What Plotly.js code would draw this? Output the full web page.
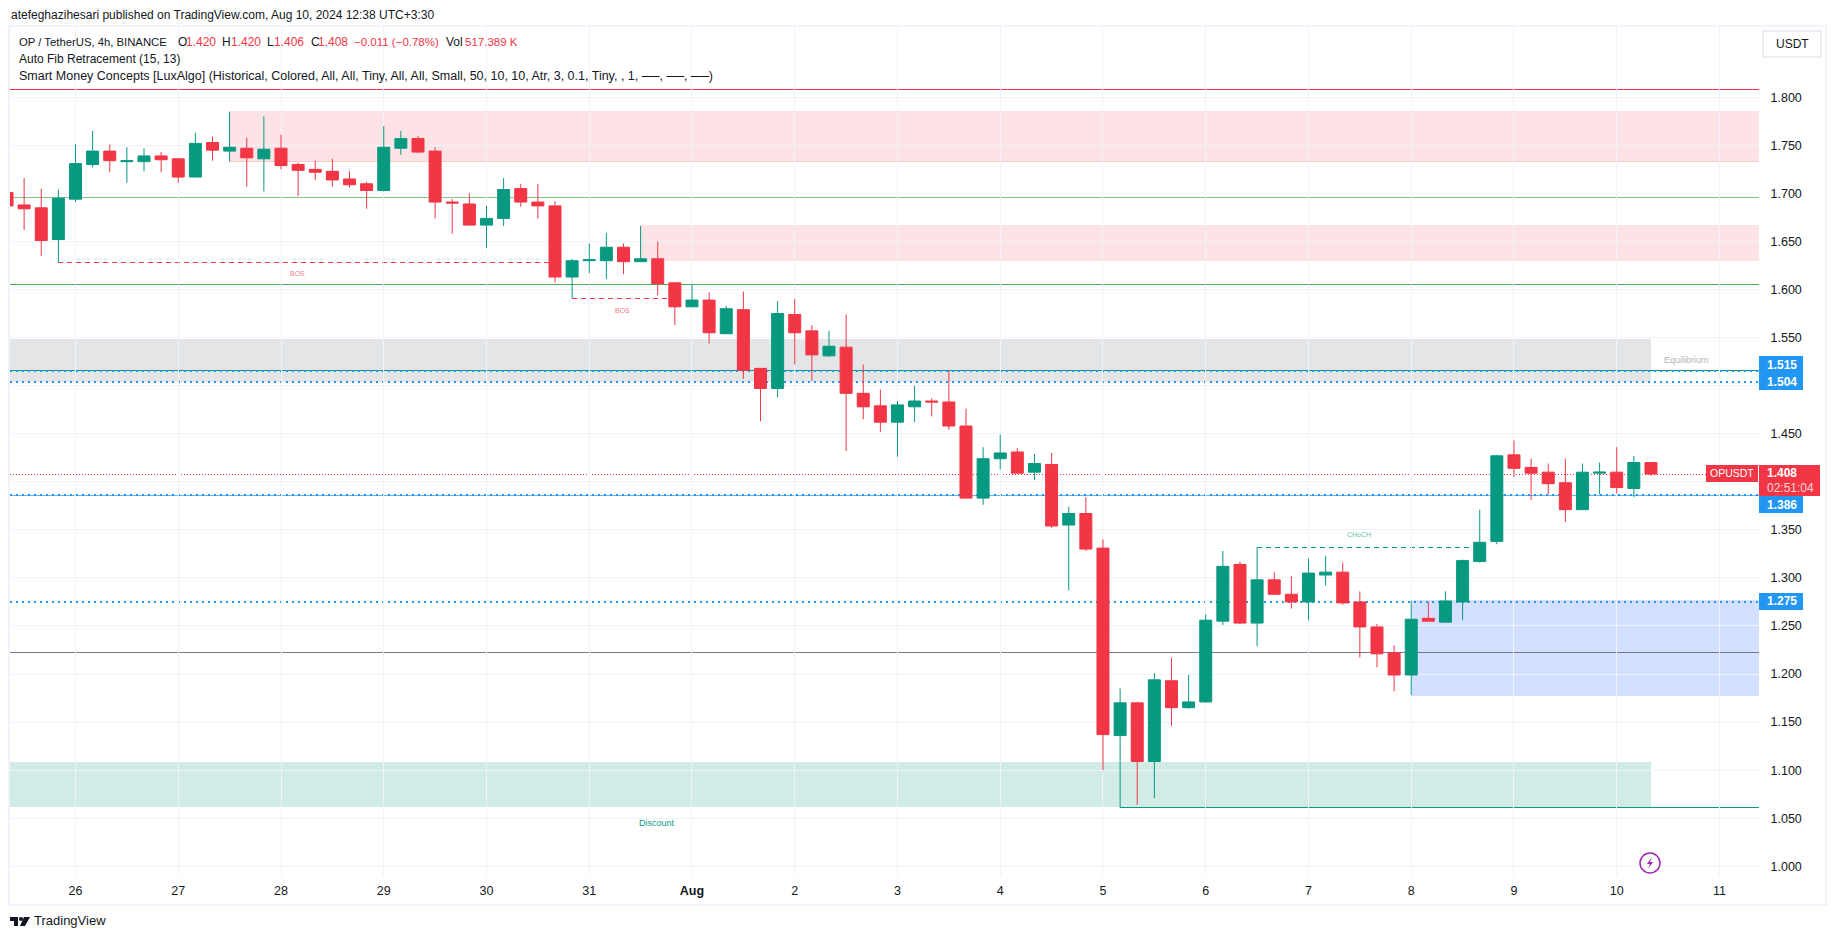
<!DOCTYPE html>
<html><head><meta charset="utf-8">
<script src="https://cdn.plot.ly/plotly-3.0.1.min.js"></script>
<style>html,body{margin:0;padding:0;background:#fff}#c{width:1835px;height:939px}</style>
</head><body><div id="c"></div>
<script>
const times = [
"2024-07-25 08:00","2024-07-25 12:00","2024-07-25 16:00","2024-07-25 20:00",
"2024-07-26 00:00","2024-07-26 04:00","2024-07-26 08:00","2024-07-26 12:00","2024-07-26 16:00","2024-07-26 20:00",
"2024-07-27 00:00","2024-07-27 04:00","2024-07-27 08:00","2024-07-27 12:00","2024-07-27 16:00","2024-07-27 20:00",
"2024-07-28 00:00","2024-07-28 04:00","2024-07-28 08:00","2024-07-28 12:00","2024-07-28 16:00","2024-07-28 20:00",
"2024-07-29 00:00","2024-07-29 04:00","2024-07-29 08:00","2024-07-29 12:00","2024-07-29 16:00","2024-07-29 20:00",
"2024-07-30 00:00","2024-07-30 04:00","2024-07-30 08:00","2024-07-30 12:00","2024-07-30 16:00","2024-07-30 20:00",
"2024-07-31 00:00","2024-07-31 04:00","2024-07-31 08:00","2024-07-31 12:00","2024-07-31 16:00","2024-07-31 20:00",
"2024-08-01 00:00","2024-08-01 04:00","2024-08-01 08:00","2024-08-01 12:00","2024-08-01 16:00","2024-08-01 20:00",
"2024-08-02 00:00","2024-08-02 04:00","2024-08-02 08:00","2024-08-02 12:00","2024-08-02 16:00","2024-08-02 20:00",
"2024-08-03 00:00","2024-08-03 04:00","2024-08-03 08:00","2024-08-03 12:00","2024-08-03 16:00","2024-08-03 20:00",
"2024-08-04 00:00","2024-08-04 04:00","2024-08-04 08:00","2024-08-04 12:00","2024-08-04 16:00","2024-08-04 20:00",
"2024-08-05 00:00","2024-08-05 04:00","2024-08-05 08:00","2024-08-05 12:00","2024-08-05 16:00","2024-08-05 20:00",
"2024-08-06 00:00","2024-08-06 04:00","2024-08-06 08:00","2024-08-06 12:00","2024-08-06 16:00","2024-08-06 20:00",
"2024-08-07 00:00","2024-08-07 04:00","2024-08-07 08:00","2024-08-07 12:00","2024-08-07 16:00","2024-08-07 20:00",
"2024-08-08 00:00","2024-08-08 04:00","2024-08-08 08:00","2024-08-08 12:00","2024-08-08 16:00","2024-08-08 20:00",
"2024-08-09 00:00","2024-08-09 04:00","2024-08-09 08:00","2024-08-09 12:00","2024-08-09 16:00","2024-08-09 20:00",
"2024-08-10 00:00","2024-08-10 04:00","2024-08-10 08:00"];
const opens = [1.701,1.688,1.685,1.652,1.694,1.730,1.744,1.733,1.733,1.739,1.736,1.717,1.753,1.744,1.747,1.736,1.747,1.730,1.725,1.723,1.715,1.710,1.703,1.747,1.757,1.744,1.691,1.689,1.667,1.674,1.705,1.691,1.687,1.613,1.630,1.630,1.644,1.629,1.632,1.607,1.582,1.589,1.554,1.579,1.518,1.497,1.574,1.557,1.531,1.540,1.492,1.479,1.462,1.478,1.484,1.483,1.458,1.383,1.424,1.431,1.410,1.418,1.355,1.367,1.331,1.136,1.170,1.109,1.193,1.165,1.171,1.255,1.314,1.253,1.298,1.283,1.275,1.303,1.306,1.275,1.249,1.222,1.199,1.258,1.254,1.275,1.317,1.338,1.428,1.415,1.410,1.399,1.371,1.409,1.410,1.393,1.420];
const highs = [1.706,1.716,1.705,1.704,1.751,1.765,1.751,1.748,1.747,1.743,1.736,1.763,1.759,1.785,1.758,1.780,1.761,1.732,1.734,1.736,1.723,1.712,1.770,1.765,1.760,1.748,1.694,1.700,1.687,1.716,1.710,1.710,1.692,1.632,1.648,1.659,1.648,1.666,1.650,1.607,1.606,1.597,1.583,1.598,1.518,1.588,1.590,1.563,1.557,1.574,1.522,1.496,1.484,1.500,1.487,1.516,1.476,1.436,1.449,1.435,1.429,1.430,1.374,1.384,1.340,1.185,1.171,1.201,1.217,1.199,1.262,1.328,1.317,1.332,1.306,1.302,1.320,1.323,1.316,1.286,1.252,1.230,1.276,1.275,1.286,1.319,1.371,1.428,1.443,1.424,1.419,1.424,1.419,1.420,1.436,1.427,1.420];
const lows = [1.684,1.662,1.635,1.628,1.691,1.727,1.722,1.711,1.723,1.722,1.711,1.717,1.734,1.733,1.707,1.702,1.725,1.697,1.714,1.707,1.706,1.684,1.702,1.740,1.742,1.674,1.658,1.667,1.643,1.666,1.686,1.674,1.607,1.591,1.617,1.611,1.616,1.629,1.594,1.563,1.582,1.544,1.554,1.507,1.463,1.488,1.522,1.505,1.530,1.432,1.465,1.452,1.426,1.462,1.468,1.454,1.383,1.376,1.413,1.409,1.402,1.352,1.287,1.328,1.100,1.061,1.064,1.071,1.146,1.164,1.170,1.251,1.252,1.229,1.282,1.268,1.256,1.292,1.272,1.217,1.207,1.182,1.178,1.255,1.254,1.256,1.316,1.335,1.405,1.381,1.387,1.358,1.371,1.387,1.388,1.384,1.406];
const closes = [1.687,1.684,1.651,1.695,1.731,1.744,1.734,1.734,1.739,1.735,1.717,1.752,1.745,1.748,1.737,1.746,1.729,1.724,1.722,1.714,1.709,1.703,1.748,1.757,1.743,1.691,1.690,1.667,1.674,1.704,1.691,1.687,1.613,1.630,1.631,1.644,1.629,1.632,1.606,1.582,1.589,1.555,1.580,1.516,1.497,1.575,1.555,1.532,1.541,1.492,1.478,1.462,1.480,1.484,1.483,1.458,1.383,1.424,1.430,1.409,1.419,1.354,1.367,1.330,1.137,1.170,1.109,1.194,1.165,1.171,1.256,1.312,1.253,1.298,1.283,1.275,1.305,1.306,1.274,1.249,1.221,1.199,1.257,1.255,1.276,1.318,1.337,1.427,1.414,1.409,1.398,1.371,1.410,1.410,1.394,1.420,1.408];

const dayTicks = ["2024-07-26","2024-07-27","2024-07-28","2024-07-29","2024-07-30","2024-07-31","2024-08-01","2024-08-02","2024-08-03","2024-08-04","2024-08-05","2024-08-06","2024-08-07","2024-08-08","2024-08-09","2024-08-10","2024-08-11"];
const dayLabels = ["26","27","28","29","30","31","<b>Aug</b>","2","3","4","5","6","7","8","9","10","11"];
const priceTicks = [1.00,1.05,1.10,1.15,1.20,1.25,1.30,1.35,1.40,1.45,1.50,1.55,1.60,1.65,1.70,1.75,1.80];
const priceLabels = ["1.000","1.050","1.100","1.150","1.200","1.250","1.300","1.350","","1.450","","1.550","1.600","1.650","1.700","1.750","1.800"];

const xStart = "2024-07-25 08:42", xEnd = "2024-08-11 09:14", lastBar = "2024-08-10 08:00";
const redZones = [[1.7848,1.733,"2024-07-27 12:00"],[1.6662,1.6302,"2024-07-31 12:00"]];
const blueZone = [1.276,1.178,"2024-08-08 00:00"];
const greyZone = [1.5487,1.5036];
const greenZone = [1.1087,1.0618];
const topLine = 1.8084, fibA = 1.696, fibB = 1.6055, midLine = 1.2227, lastPrice = 1.408;
const dottedLevels = [1.5157,1.504,1.386,1.275];
const swingLow = [1.0608,"2024-08-05 04:00"];
const bos1 = [1.628,"2024-07-25 20:00","2024-07-30 16:00"];
const bos2 = [1.591,"2024-07-30 20:00","2024-07-31 20:00"];
const choch = [1.332,"2024-08-06 12:00","2024-08-08 16:00"];

const RED="#f23645", GREEN="#089981", BLUE="#2196f3", INK="#131722";
const L=10,R=1759,T=27,B=876;
const fx=p=>(p-L)/(R-L), fy=p=>(B-p)/(B-T);
const FONT='"Liberation Sans", Arial, sans-serif';

function hline(y,color,width,dash,x0,x1){return {type:'line',xref:'x',yref:'y',x0:x0||xStart,x1:x1||xEnd,y0:y,y1:y,layer:'below',line:{color,width,dash:dash||'solid'}};}
function zone(y0,y1,x0,x1,fill,border){return {type:'rect',xref:'x',yref:'y',x0,x1,y0,y1,layer:'below',fillcolor:fill,line:{color:border,width:border==='rgba(0,0,0,0)'?0:1}};}
function pxRect(x0,y0,x1,y1,fill){return {type:'rect',xref:'paper',yref:'paper',x0:fx(x0),x1:fx(x1),y0:fy(y0),y1:fy(y1),fillcolor:fill,line:{width:0},layer:'above'};}
function pxText(text,x,y,size,color,anchor){return {xref:'paper',yref:'paper',x:fx(x),y:fy(y),text,showarrow:false,xanchor:anchor||'left',yanchor:'middle',font:{size,color,family:FONT},align:'left',borderpad:0};}
function P(x,y){return fx(x).toFixed(5)+','+fy(y).toFixed(5);}

const shapes=[
 {type:'rect',xref:'paper',yref:'paper',x0:fx(9),x1:fx(1826),y0:fy(26),y1:fy(905),line:{color:'#f0f3fa',width:2},layer:'below'},
 ...redZones.map(z=>zone(z[0],z[1],z[2],xEnd,'rgba(242,54,69,0.14)','rgba(242,54,69,0.14)')),
 zone(blueZone[0],blueZone[1],blueZone[2],xEnd,'rgba(41,98,255,0.2)','rgba(41,98,255,0.2)'),
 zone(greyZone[0],greyZone[1],xStart,lastBar,'rgba(120,123,134,0.2)','rgba(0,0,0,0)'),
 zone(greenZone[0],greenZone[1],xStart,lastBar,'rgba(8,153,129,0.19)','rgba(0,0,0,0)'),
 hline(topLine,RED,1),
 hline(fibA,'#81c784',1),
 hline(fibB,'#4caf50',1),
 hline(midLine,'#787b86',1),
 hline(dottedLevels[0],GREEN,1),
 hline(dottedLevels[2],'#64b5f6',1),
 hline(lastPrice,RED,1,'1px,2px'),
 ...dottedLevels.map(v=>hline(v,BLUE,2,'2px,4px')),
 hline(swingLow[0],GREEN,1,'solid',swingLow[1],xEnd),
 hline(bos1[0],RED,1,'5px,4px',bos1[1],bos1[2]),
 hline(bos2[0],RED,1,'5px,4px',bos2[1],bos2[2]),
 hline(choch[0],GREEN,1,'5px,4px',choch[1],choch[2]),
 // price tags
 pxRect(1759,356,1803,390,BLUE),
 pxRect(1759,496,1803,513,BLUE),
 pxRect(1759,593,1803,610,BLUE),
 pxRect(1759,465,1820,496,RED),
 pxRect(1706,465,1758,482,RED),
 // USDT button
 {type:'rect',xref:'paper',yref:'paper',x0:fx(1763),x1:fx(1821),y0:fy(31),y1:fy(57),line:{color:'#e8eaf2',width:1.5},fillcolor:'#fff',layer:'above'},
 // flash icon
 {type:'circle',xref:'paper',yref:'paper',x0:fx(1640),x1:fx(1660),y0:fy(853),y1:fy(873),line:{color:'#9c27b0',width:1.5},fillcolor:'#fff',layer:'above'},
 {type:'path',xref:'paper',yref:'paper',path:'M'+P(1652,857)+' L'+P(1647,864)+' L'+P(1650,864)+' L'+P(1648,869)+' L'+P(1653,862)+' L'+P(1650,862)+' Z',fillcolor:'#9c27b0',line:{width:0},layer:'above'},
 // TradingView logo
 {type:'path',xref:'paper',yref:'paper',path:'M'+P(10,917)+' L'+P(18,917)+' L'+P(18,926)+' L'+P(14,926)+' L'+P(14,921)+' L'+P(10,921)+' Z M'+P(24,917)+' L'+P(30,917)+' L'+P(25,926)+' L'+P(20,926)+' Z',fillcolor:INK,line:{width:0},layer:'above'},
 {type:'circle',xref:'paper',yref:'paper',x0:fx(19),x1:fx(23),y0:fy(917),y1:fy(921),fillcolor:INK,line:{width:0},layer:'above'}
];

const annotations=[
 pxText('atefeghazihesari published on TradingView.com, Aug 10, 2024 12:38 UTC+3:30',10,15,12,INK),
 pxText('OP / TetherUS, 4h, BINANCE',18,42,11.3,INK),
 pxText('O',177,42,12,INK),pxText('1.420',185,42,12,RED),
 pxText('H',221,42,12,INK),pxText('1.420',230,42,12,RED),
 pxText('L',266,42,12,INK),pxText('1.406',273,42,12,RED),
 pxText('C',310,42,12,INK),pxText('1.408',317,42,12,RED),
 pxText('−0.011 (−0.78%)',353,42,11.5,RED),
 pxText('Vol',445,42,12,INK),pxText('517.389 K',464,42,11.5,RED),
 pxText('Auto Fib Retracement (15, 13)',18,59,12,INK),
 pxText('Smart Money Concepts [LuxAlgo] (Historical, Colored, All, All, Tiny, All, All, Small, 50, 10, 10, Atr, 3, 0.1, Tiny, , 1, ──, ──, ──)',18,76,12.5,INK),
 pxText('USDT',1792,44,12,INK,'center'),
 pxText('<b>1.515</b>',1782,364.7,12,'#fff','center'),
 pxText('<b>1.504</b>',1782,381.7,12,'#fff','center'),
 pxText('<b>1.386</b>',1782,504.5,12,'#fff','center'),
 pxText('<b>1.275</b>',1782,601.5,12,'#fff','center'),
 pxText('<b>1.408</b>',1782,473,12,'#fff','center'),
 pxText('02:51:04',1790,488,12,'rgba(255,255,255,0.8)','center'),
 pxText('OPUSDT',1732,473.5,10.5,'#fff','center'),
 pxText('TradingView',33,921,13,INK),
 {xref:'x',yref:'y',x:'2024-07-28 03:50',y:1.617,text:'BOS',showarrow:false,font:{size:7,color:'rgba(242,54,69,0.7)',family:FONT}},
 {xref:'x',yref:'y',x:'2024-07-31 07:40',y:1.578,text:'BOS',showarrow:false,font:{size:7,color:'rgba(242,54,69,0.7)',family:FONT}},
 {xref:'x',yref:'y',x:'2024-08-07 11:42',y:1.345,text:'CHoCH',showarrow:false,font:{size:7,color:'rgba(8,153,129,0.7)',family:FONT}},
 {xref:'x',yref:'y',x:'2024-07-31 15:54',y:1.0454,text:'Discount',showarrow:false,font:{size:9,color:GREEN,family:FONT}},
 {xref:'x',yref:'y',x:'2024-08-10 16:13',y:1.5262,text:'Equilibrium',showarrow:false,font:{size:9,color:'#b2b5be',family:FONT}}
];

const trace={type:'candlestick',x:times,open:opens,high:highs,low:lows,close:closes,
 increasing:{line:{color:GREEN,width:1},fillcolor:GREEN},
 decreasing:{line:{color:RED,width:1},fillcolor:RED},
 whiskerwidth:0,hoverinfo:'skip'};

const layout={width:1835,height:939,showlegend:false,paper_bgcolor:'#fff',plot_bgcolor:'#fff',
 margin:{l:L,r:1835-R,t:T,b:939-B,pad:0},boxgap:0.3,boxgroupgap:0,
 font:{family:FONT,color:INK,size:12},
 xaxis:{type:'date',range:[xStart,xEnd],rangeslider:{visible:false},tickmode:'array',tickvals:dayTicks,ticktext:dayLabels,
  showgrid:true,gridcolor:'#f0f3fa',gridwidth:1,zeroline:false,showline:false,ticks:'outside',ticklen:3,tickcolor:'rgba(0,0,0,0)',tickangle:0,tickfont:{size:12.5,color:INK,family:FONT},fixedrange:true},
 yaxis:{side:'right',range:[0.9899,1.8731],tickmode:'array',tickvals:priceTicks,ticktext:priceLabels,
  showgrid:true,gridcolor:'#f0f3fa',gridwidth:1,zeroline:false,showline:false,ticks:'outside',ticklen:8,tickcolor:'rgba(0,0,0,0)',tickfont:{size:12.5,color:INK,family:FONT},fixedrange:true},
 shapes,annotations};
Plotly.newPlot('c',[trace],layout,{displayModeBar:false,staticPlot:true}).then(()=>{
 document.querySelectorAll('.shapelayer path').forEach(p=>{
  const s=shapes[+p.getAttribute('data-index')];
  if(s && s.yref==='y') p.style.shapeRendering='crispEdges';
 });
});
</script></body></html>
